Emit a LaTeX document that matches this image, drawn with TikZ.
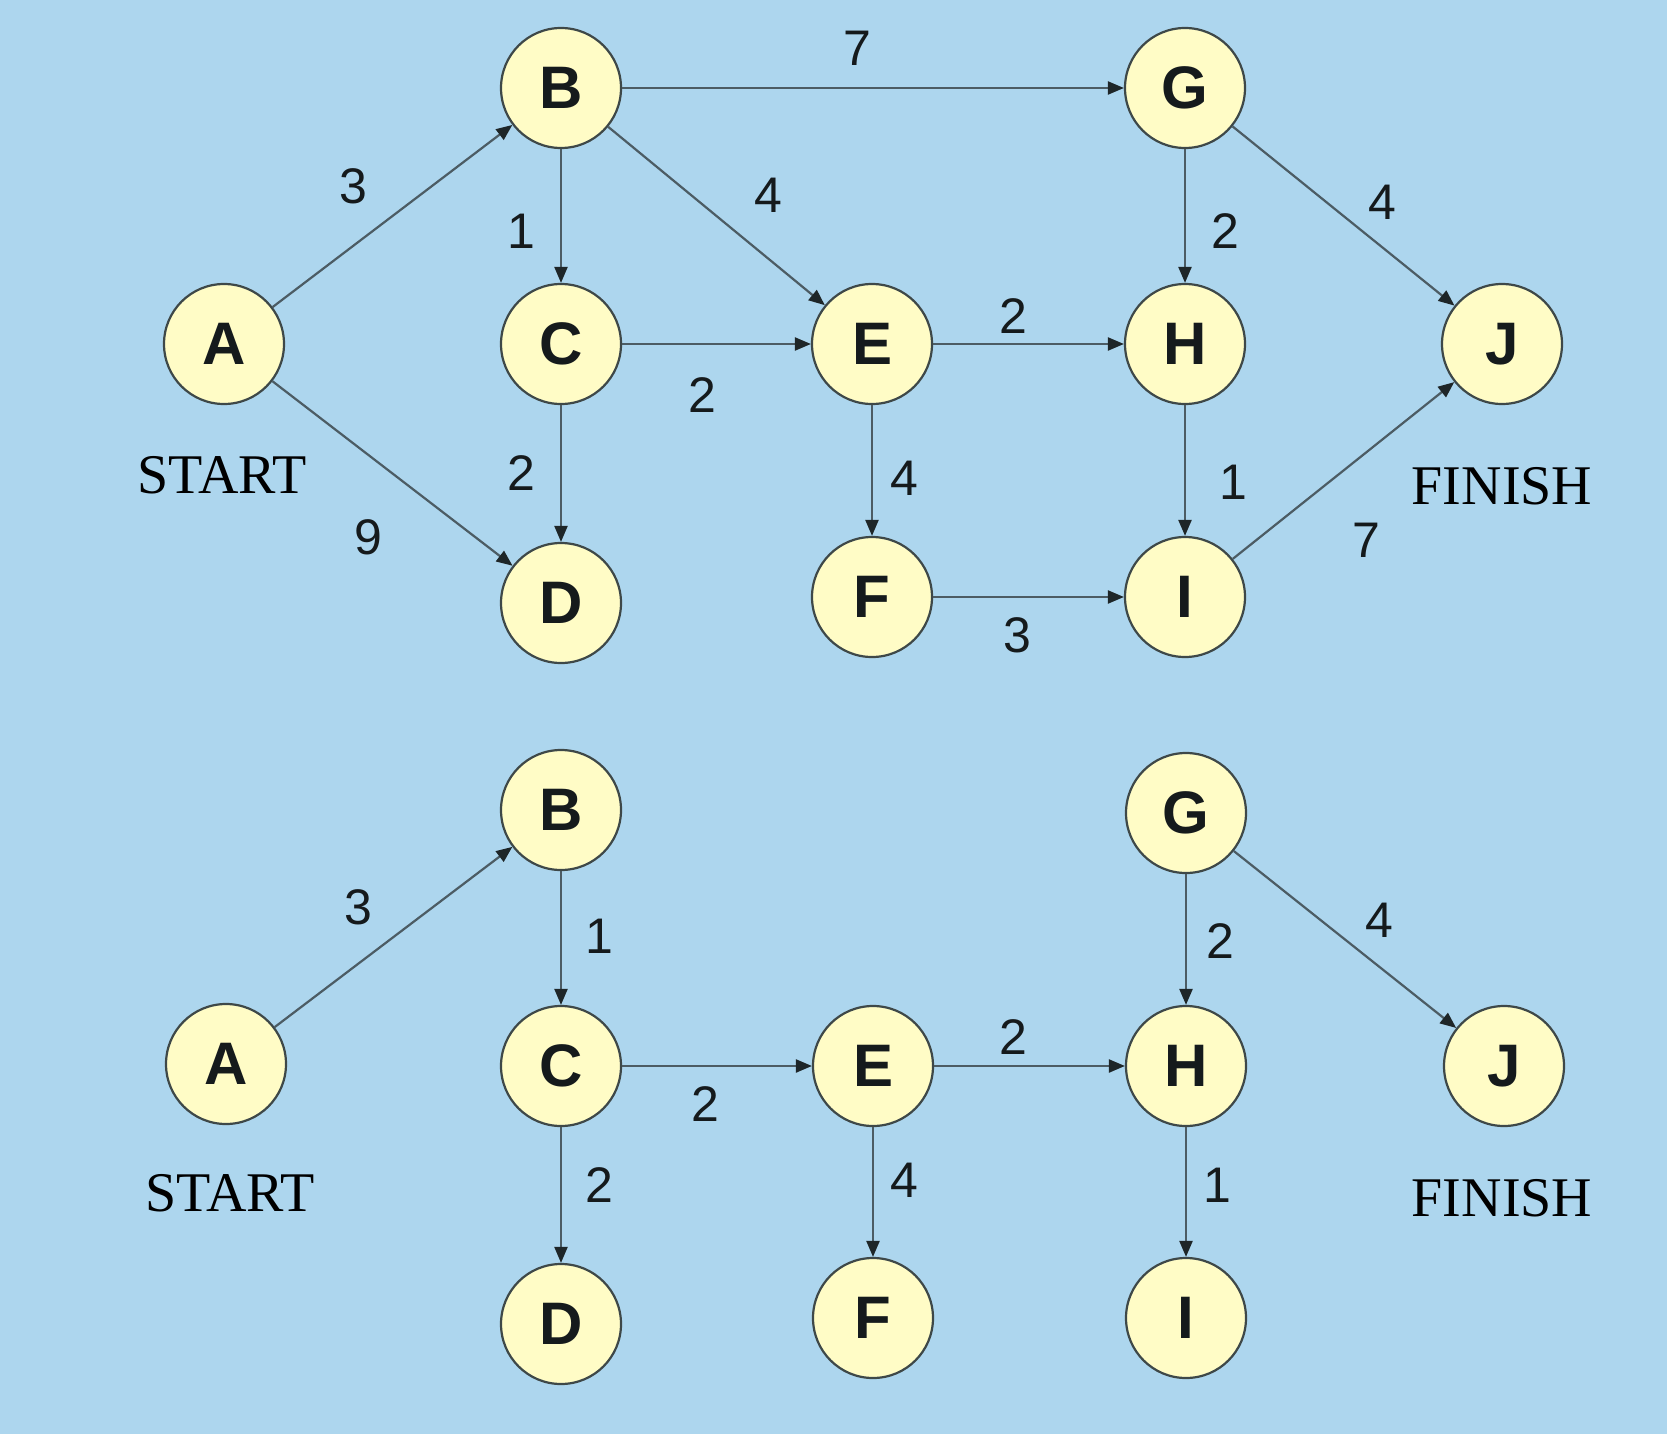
\documentclass[tikz,border=0pt]{standalone}
\usepackage{fontspec}
\setmainfont{Liberation Serif}
\newfontfamily\arialf{Liberation Sans}
\usetikzlibrary{arrows.meta}
\definecolor{bgblue}{HTML}{ADD6EE}
\definecolor{nodefill}{HTML}{FFFCC6}
\definecolor{nodeline}{HTML}{3E4848}
\definecolor{edgecol}{HTML}{4C5C64}
\definecolor{tipcol}{HTML}{1E2628}
\definecolor{txtcol}{HTML}{151A1C}
\tikzset{
  vtx/.style={circle, minimum size=120pt, inner sep=0pt, fill=nodefill, draw=nodeline, line width=2.2pt,
    font=\arialf\bfseries\fontsize{60}{60}\selectfont, text=txtcol},
  edge/.style={draw=edgecol, line width=2.2pt, -{Triangle[length=16pt,width=13pt,color=tipcol]}},
  lbl/.style={font=\arialf\fontsize{50}{50}\selectfont, text=txtcol, inner sep=0pt},
  endlbl/.style={font=\fontsize{56}{56}\selectfont, text=black, inner sep=0pt}
}
\begin{document}
\begin{tikzpicture}[x=1pt,y=-1pt]
\fill[bgblue] (0,0) rectangle (1667,1434);
\useasboundingbox (0,0) rectangle (1667,1434);
% ---------- top graph ----------
\node[vtx] (tA) at (224,344) {A};
\node[vtx] (tB) at (561,88) {B};
\node[vtx] (tC) at (561,344) {C};
\node[vtx] (tD) at (561,603) {D};
\node[vtx] (tE) at (872,344) {E};
\node[vtx] (tF) at (872,597) {F};
\node[vtx] (tG) at (1185,88) {G};
\node[vtx] (tH) at (1185,344) {H};
\node[vtx] (tI) at (1185,597) {I};
\node[vtx] (tJ) at (1502,344) {J};
\draw[edge] (tA) -- (tB) node[lbl] at (353,186) {3};
\draw[edge] (tA) -- (tD) node[lbl] at (368,537) {9};
\draw[edge] (tB) -- (tC) node[lbl] at (521,231) {1};
\draw[edge] (tB) -- (tE) node[lbl] at (768,195) {4};
\draw[edge] (tB) -- (tG) node[lbl] at (857,48) {7};
\draw[edge] (tC) -- (tE) node[lbl] at (702,395) {2};
\draw[edge] (tC) -- (tD) node[lbl] at (521,473) {2};
\draw[edge] (tE) -- (tH) node[lbl] at (1013,316) {2};
\draw[edge] (tE) -- (tF) node[lbl] at (904,478) {4};
\draw[edge] (tG) -- (tH) node[lbl] at (1225,231) {2};
\draw[edge] (tG) -- (tJ) node[lbl] at (1382,202) {4};
\draw[edge] (tH) -- (tI) node[lbl] at (1233,482) {1};
\draw[edge] (tF) -- (tI) node[lbl] at (1017,635) {3};
\draw[edge] (tI) -- (tJ) node[lbl] at (1366,540) {7};
\node[endlbl] (tstart) at (222,475) {START};
\node[endlbl] (tfinish) at (1502,486) {FINISH};
% ---------- bottom graph ----------
\node[vtx] (bA) at (226,1064) {A};
\node[vtx] (bB) at (561,810) {B};
\node[vtx] (bC) at (561,1066) {C};
\node[vtx] (bD) at (561,1324) {D};
\node[vtx] (bE) at (873,1066) {E};
\node[vtx] (bF) at (873,1318) {F};
\node[vtx] (bG) at (1186,813) {G};
\node[vtx] (bH) at (1186,1066) {H};
\node[vtx] (bI) at (1186,1318) {I};
\node[vtx] (bJ) at (1504,1066) {J};
\draw[edge] (bA) -- (bB) node[lbl] at (358,907) {3};
\draw[edge] (bB) -- (bC) node[lbl] at (599,936) {1};
\draw[edge] (bC) -- (bE) node[lbl] at (705,1104) {2};
\draw[edge] (bC) -- (bD) node[lbl] at (599,1185) {2};
\draw[edge] (bE) -- (bH) node[lbl] at (1013,1037) {2};
\draw[edge] (bE) -- (bF) node[lbl] at (904,1180) {4};
\draw[edge] (bG) -- (bH) node[lbl] at (1220,941) {2};
\draw[edge] (bG) -- (bJ) node[lbl] at (1379,920) {4};
\draw[edge] (bH) -- (bI) node[lbl] at (1217,1185) {1};
\node[endlbl] (bstart) at (230,1193) {START};
\node[endlbl] (bfinish) at (1502,1198) {FINISH};
\end{tikzpicture}
\end{document}
